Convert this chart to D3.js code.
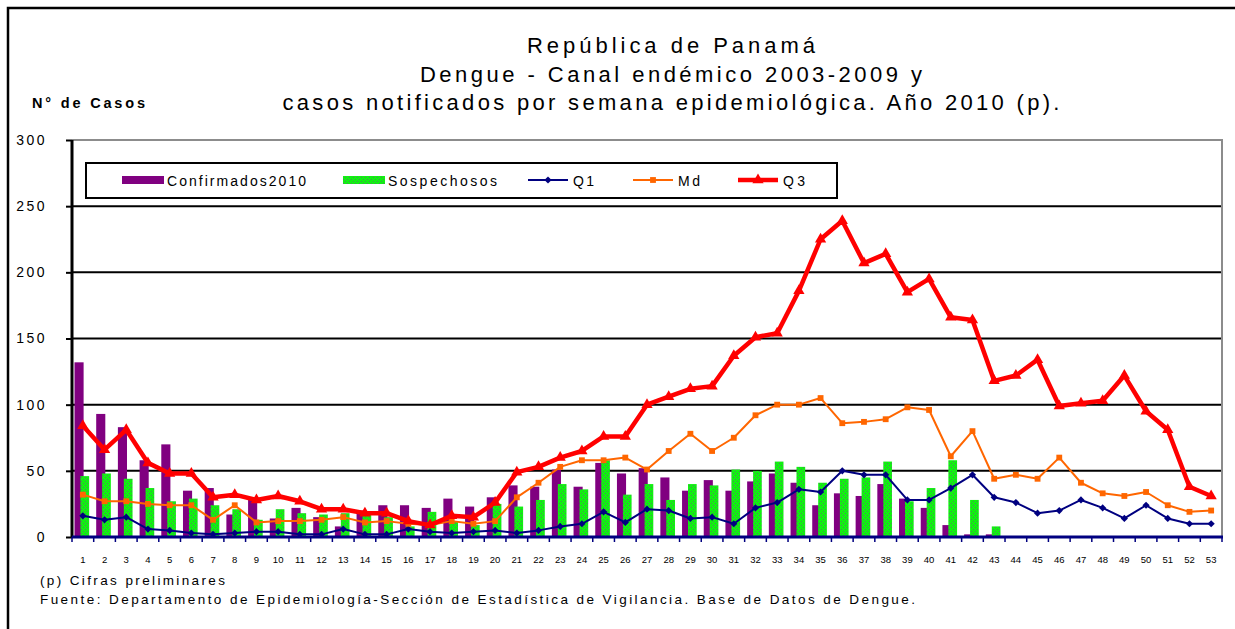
<!DOCTYPE html>
<html>
<head>
<meta charset="utf-8">
<script src="https://cdn.jsdelivr.net/npm/d3@7"></script>
<style>
	body { margin: 0; background: #fff; }
	svg { display: block; font-family: "Liberation Sans", Arial, sans-serif; }
</style>
</head>
<body>
<div id="chart"></div>
<script>
'use strict';
(function(){

	// datos: semanas epidemiologicas 2010 y canal endemico 2003-2009
	var semanas = [1,2,3,4,5,6,7,8,9,10,11,12,13,14,15,16,17,18,19,20,21,22,23,24,25,26,27,
		28,29,30,31,32,33,34,35,36,37,38,39,40,41,42,43,44,45,46,47,48,49,50,51,52,53];
	var confirmados = [132,93,83,58,70,35,37,17,28,14,22,15,8,20,24,24,22,29,23,30,39,38,51,38,56,48,52,
		45,35,43,35,42,48,41,24,33,31,40,29,22,9,2,2,0,0,0,0,0,0,0,0,0,0];
	var sospechosos = [46,48,44,37,27,29,24,21,13,21,18,17,18,17,15,8,19,12,9,25,23,28,40,36,58,32,40,
		28,40,39,51,50,57,53,41,44,45,57,27,37,58,28,8,0,0,0,0,0,0,0,0,0,0];
	var q1 = [16,13,15,6,5,3,2,3,4,4,2,2,6,2,2,6,4,3,4,5,3,5,8,10,19,11,21,
		20,14,15,10,22,26,36,34,50,47,47,28,28,37,47,30,26,18,20,28,22,14,24,14,10,10];
	var md = [32,27,27,25,24,24,13,24,11,12,12,13,15,11,12,10,9,12,10,12,30,41,53,58,58,60,51,
		65,78,65,75,92,100,100,105,86,87,89,98,96,61,80,44,47,44,60,41,33,31,34,24,19,20];
	var q3 = [84,66,81,56,48,48,30,32,28,31,27,21,21,18,18,12,9,16,15,26,49,53,60,65,76,76,100,
		106,112,114,137,151,154,186,225,239,207,214,185,195,166,164,118,122,134,99,101,103,122,95,81,38,31];
	var yTicks = [0,50,100,150,200,250,300];

	var titulo = ['República de Panamá',
		'Dengue - Canal endémico 2003-2009 y',
		'casos notificados por semana epidemiológica. Año 2010 (p).'];
	var notas = ['(p) Cifras preliminares',
		'Fuente: Departamento de Epidemiología-Sección de Estadística de Vigilancia. Base de Datos de Dengue.'];

	// svg
	var svgWidth = 1235;
	var svgHeight = 629;
	var plot = { left: 72, right: 1222, top: 140, bottom: 537 };

	var svg = d3.select('#chart')
		.append('svg')
		.attr('width', svgWidth)
		.attr('height', svgHeight);

	// patron de los sospechosos
	var pat = svg.append('defs').append('pattern')
		.attr('id', 'verde')
		.attr('patternUnits', 'userSpaceOnUse')
		.attr('width', 4)
		.attr('height', 4);
	pat.append('rect').attr('width', 4).attr('height', 4).attr('fill', '#11f011');
	pat.append('rect').attr('x', 1).attr('y', 1).attr('width', 1).attr('height', 1).attr('fill', '#4d8a5a');
	pat.append('rect').attr('x', 3).attr('y', 3).attr('width', 1).attr('height', 1).attr('fill', '#4d8a5a');

	// marco exterior
	svg.append('path')
		.attr('d', 'M8,700V8H1300')
		.attr('fill', 'none')
		.attr('stroke', '#000')
		.attr('stroke-width', 2.5);

	var x = d3.scaleBand()
		.domain(semanas)
		.range([plot.left, plot.right]);
	var bw = x.bandwidth();

	var y = d3.scaleLinear()
		.domain([0, 300])
		.range([plot.bottom, plot.top]);

	// titulo
	var widths = [288, 502, 777];
	svg.selectAll('text.titulo')
		.data(titulo)
		.enter()
		.append('text')
		.attr('class', 'titulo')
		.attr('x', 671)
		.attr('y', function (d, i) { return 53 + i * 28.5; })
		.attr('text-anchor', 'middle')
		.attr('font-size', 22)
		.attr('textLength', function (d, i) { return widths[i]; })
		.attr('lengthAdjust', 'spacing')
		.text(function (d) { return d; });

	svg.append('text')
		.attr('x', 32)
		.attr('y', 108)
		.attr('font-size', 14.5)
		.attr('font-weight', 'bold')
		.attr('textLength', 113)
		.attr('lengthAdjust', 'spacing')
		.text('N° de Casos');

	// lineas de grilla
	svg.selectAll('line.grid')
		.data(yTicks.filter(function (d) { return d > 0 && d < 300; }))
		.enter()
		.append('line')
		.attr('class', 'grid')
		.attr('x1', plot.left)
		.attr('x2', plot.right)
		.attr('y1', function (d) { return y(d); })
		.attr('y2', function (d) { return y(d); })
		.attr('stroke', '#000')
		.attr('stroke-width', 2);

	// borde del area de trazado
	svg.append('path')
		.attr('d', 'M' + plot.left + ',' + y(300) + 'H' + plot.right + 'V' + plot.bottom)
		.attr('fill', 'none')
		.attr('stroke', '#8c8c8c')
		.attr('stroke-width', 2);

	// barras
	svg.selectAll('rect.conf')
		.data(confirmados)
		.enter()
		.append('rect')
		.attr('class', 'conf')
		.attr('x', function (d, i) { return x(semanas[i]) + bw * 0.115; })
		.attr('y', function (d) { return y(d); })
		.attr('width', bw * 0.42)
		.attr('height', function (d) { return y(0) - y(d); })
		.attr('fill', '#800080');

	svg.selectAll('rect.sosp')
		.data(sospechosos)
		.enter()
		.append('rect')
		.attr('class', 'sosp')
		.attr('x', function (d, i) { return x(semanas[i]) + bw * 0.39; })
		.attr('y', function (d) { return y(d); })
		.attr('width', bw * 0.4)
		.attr('height', function (d) { return y(0) - y(d); })
		.attr('fill', 'url(#verde)');

	// ejes
	var yAxis = svg.append('g')
		.attr('transform', 'translate(' + plot.left + ',0)')
		.call(d3.axisLeft(y).tickValues(yTicks).tickSize(6).tickPadding(19));
	yAxis.select('.domain').remove();
	yAxis.selectAll('.tick line').attr('stroke', '#000').attr('stroke-width', 2);
	yAxis.selectAll('.tick text')
		.attr('font-size', 14)
		.attr('font-family', null)
		.attr('letter-spacing', 2.5)
		.attr('fill', '#000');
	svg.append('line')
		.attr('x1', plot.left).attr('x2', plot.left)
		.attr('y1', plot.top).attr('y2', plot.bottom + 1)
		.attr('stroke', '#000')
		.attr('stroke-width', 3);

	var xAxis = svg.append('g')
		.attr('transform', 'translate(0,' + plot.bottom + ')')
		.call(d3.axisBottom(x).tickSize(0).tickPadding(19));
	xAxis.select('.domain').remove();
	xAxis.selectAll('.tick text')
		.attr('font-size', 9.5)
		.attr('font-family', null)
		.attr('fill', '#000');
	svg.selectAll('line.xtick')
		.data(semanas.concat([null]))
		.enter()
		.append('line')
		.attr('class', 'xtick')
		.attr('x1', function (d) { return d === null ? plot.right : x(d); })
		.attr('x2', function (d) { return d === null ? plot.right : x(d); })
		.attr('y1', plot.bottom)
		.attr('y2', plot.bottom + 5)
		.attr('stroke', '#000080')
		.attr('stroke-width', 1.5);
	svg.append('line')
		.attr('x1', plot.left).attr('x2', plot.right + 1)
		.attr('y1', plot.bottom).attr('y2', plot.bottom)
		.attr('stroke', '#000080')
		.attr('stroke-width', 3);

	// series del canal endemico
	var series = [
		{ name: 'Q1', values: q1, color: '#000080', width: 2, symbol: d3.symbolSquare, size: 26, rotate: 45 },
		{ name: 'Md', values: md, color: '#ff6600', width: 2, symbol: d3.symbolSquare, size: 34, rotate: 0 },
		{ name: 'Q3', values: q3, color: '#ff0000', width: 4.5, symbol: d3.symbolTriangle, size: 55, rotate: 0 }
	];

	var line = d3.line()
		.x(function (d, i) { return x(semanas[i]) + bw / 2; })
		.y(function (d) { return y(d); });

	series.forEach(function (s) {
		svg.append('path')
			.datum(s.values)
			.attr('d', line)
			.attr('fill', 'none')
			.attr('stroke', s.color)
			.attr('stroke-width', s.width)
			.attr('stroke-linejoin', 'round');

		svg.selectAll('path.m' + s.name)
			.data(s.values)
			.enter()
			.append('path')
			.attr('class', 'm' + s.name)
			.attr('d', d3.symbol().type(s.symbol).size(s.size))
			.attr('transform', function (d, i) {
				return 'translate(' + (x(semanas[i]) + bw / 2) + ',' + y(d) + ') rotate(' + s.rotate + ')';
			})
			.attr('fill', s.color);
	});

	// leyenda
	var legend = svg.append('g');
	legend.append('rect')
		.attr('x', 86).attr('y', 163)
		.attr('width', 751).attr('height', 35)
		.attr('fill', '#fff')
		.attr('stroke', '#000')
		.attr('stroke-width', 2);

	var items = [
		{ label: 'Confirmados2010', x: 122, textW: 139, kind: 'bar', fill: '#800080' },
		{ label: 'Sospechosos', x: 343, textW: 109, kind: 'bar', fill: 'url(#verde)' },
		{ label: 'Q1', x: 528, textW: 21, kind: 'line', s: series[0] },
		{ label: 'Md', x: 633, textW: 22, kind: 'line', s: series[1] },
		{ label: 'Q3', x: 738, textW: 22, kind: 'line', s: series[2] }
	];

	items.forEach(function (it) {
		if (it.kind === 'bar') {
			legend.append('rect')
				.attr('x', it.x).attr('y', 176)
				.attr('width', 42).attr('height', 8)
				.attr('fill', it.fill);
		} else {
			legend.append('line')
				.attr('x1', it.x).attr('x2', it.x + 40)
				.attr('y1', 180).attr('y2', 180)
				.attr('stroke', it.s.color)
				.attr('stroke-width', it.s.width);
			legend.append('path')
				.attr('d', d3.symbol().type(it.s.symbol).size(it.s.size))
				.attr('transform', 'translate(' + (it.x + 20) + ',180) rotate(' + it.s.rotate + ')')
				.attr('fill', it.s.color);
		}
		legend.append('text')
			.attr('x', it.x + 45)
			.attr('y', 186)
			.attr('font-size', 14)
			.attr('textLength', it.textW)
			.attr('lengthAdjust', 'spacing')
			.text(it.label);
	});

	// notas al pie
	var notaW = [185, 875];
	svg.selectAll('text.nota')
		.data(notas)
		.enter()
		.append('text')
		.attr('class', 'nota')
		.attr('x', 40)
		.attr('y', function (d, i) { return 585 + i * 19; })
		.attr('font-size', 13.5)
		.attr('textLength', function (d, i) { return notaW[i]; })
		.attr('lengthAdjust', 'spacing')
		.text(function (d) { return d; });

}());
</script>
</body>
</html>
